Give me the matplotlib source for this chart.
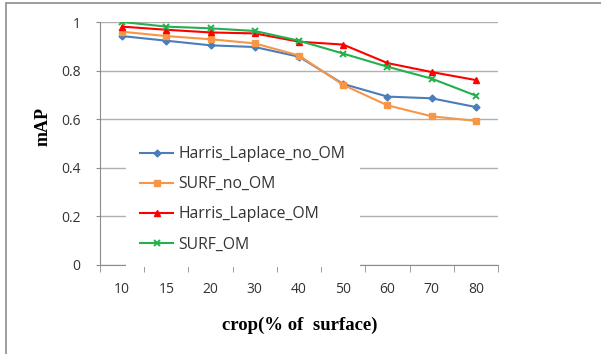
"""
mAP vs crop chart
"""

import matplotlib
matplotlib.use("Agg")
import matplotlib.pyplot as plt
from matplotlib.patches import Rectangle

# data
crops = ["10", "15", "20", "30", "40", "50", "60", "70", "80"]
harris_no_om = [0.942, 0.923, 0.904, 0.897, 0.857, 0.745, 0.693, 0.686, 0.650]
surf_no_om = [0.960, 0.942, 0.929, 0.912, 0.862, 0.741, 0.657, 0.612, 0.593]
harris_om = [0.981, 0.968, 0.957, 0.953, 0.919, 0.907, 0.831, 0.794, 0.761]
surf_om = [1.000, 0.981, 0.974, 0.963, 0.923, 0.870, 0.816, 0.767, 0.697]
y_ticks = [0, 0.2, 0.4, 0.6, 0.8, 1]
y_tick_labels = ["0", "0.2", "0.4", "0.6", "0.8", "1"]


def viz():
    fig = plt.figure(figsize=(6.01, 3.54), dpi=100)
    fig.patches.append(Rectangle((6 / 601, -0.1), 1.2, (351 / 354) + 0.1,
                                 transform=fig.transFigure, fill=False,
                                 edgecolor="#8c8c8c", linewidth=1.2))
    ax = fig.add_axes([100 / 601, 89 / 354, 398 / 601, 243 / 354])

    x = list(range(len(crops)))
    tick_font = {"family": ["Open Sans", "DejaVu Sans"], "size": 10, "color": "#333333"}

    ax.plot(x, harris_no_om, color="#4a7ebb", marker="D", markersize=3.5,
            linewidth=1.5, label="Harris_Laplace_no_OM")
    ax.plot(x, surf_no_om, color="#f79646", marker="s", markersize=4.5,
            linewidth=1.5, label="SURF_no_OM")
    ax.plot(x, harris_om, color="#ff0000", marker="^", markersize=5,
            linewidth=1.5, label="Harris_Laplace_OM")
    ax.plot(x, surf_om, color="#22b14c", marker="x", markersize=4.5,
            markeredgewidth=1.4, linewidth=1.5, label="SURF_OM")

    ax.set_xlim(-0.5, len(crops) - 0.5)
    ax.set_ylim(0, 1)
    ax.set_yticks(y_ticks)
    ax.set_yticklabels(y_tick_labels, fontdict=tick_font)
    ax.set_xticks(x)
    ax.set_xticklabels(crops, fontdict=tick_font)
    ax.set_xticks([i - 0.5 for i in range(len(crops) + 1)], minor=True)
    ax.tick_params(axis="x", which="major", length=0, pad=12)
    ax.tick_params(axis="x", which="minor", length=5, color="#8c8c8c", direction="out")
    ax.tick_params(axis="y", length=3, color="#8c8c8c", pad=11)
    ax.grid(axis="y", color="#b0b0b0", linewidth=1)
    ax.set_axisbelow(True)

    for side in ["top", "right"]:
        ax.spines[side].set_visible(False)
    for side in ["left", "bottom"]:
        ax.spines[side].set_color("#8c8c8c")

    ax.set_ylabel("mAP", fontdict={"family": "Liberation Serif", "weight": "bold", "size": 13})
    ax.yaxis.set_label_coords(-48 / 398, 138 / 243)
    ax.set_xlabel("crop(% of  surface)",
                  fontdict={"family": "Liberation Serif", "weight": "bold", "size": 13.5})
    ax.xaxis.set_label_coords(200 / 398, -52 / 243)

    leg = ax.legend(loc="upper left", bbox_to_anchor=(26 / 398, 133 / 243),
                    frameon=True, fancybox=False, edgecolor="none", framealpha=1,
                    prop={"family": ["Open Sans", "DejaVu Sans"], "size": 11.3},
                    handlelength=2.1, labelspacing=0.9, borderpad=0.9,
                    handletextpad=0.35, borderaxespad=0)
    for text in leg.get_texts():
        text.set_color("#333333")

    fig.savefig("out.png", dpi=100)


if __name__ == "__main__":
    viz()
